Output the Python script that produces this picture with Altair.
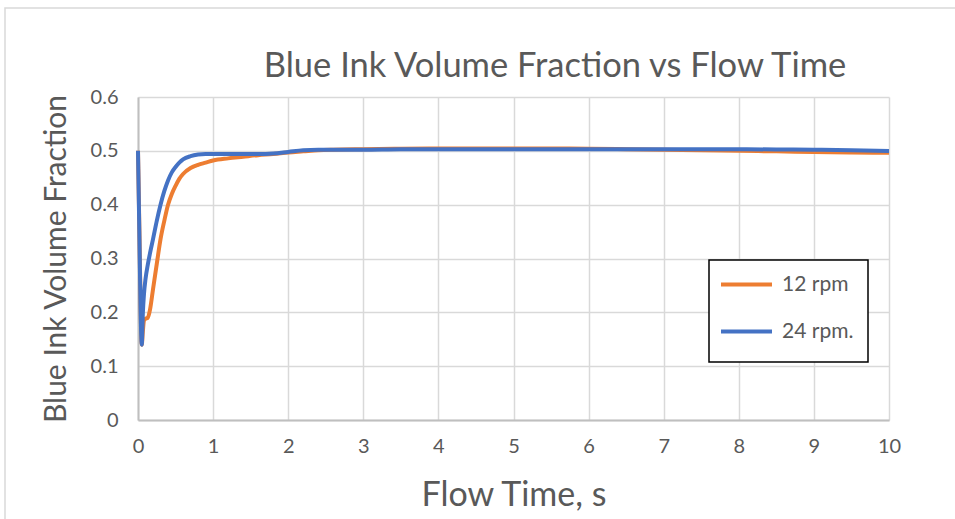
import altair as alt
import pandas as pd

# Flow time (s) and blue ink volume fraction for each rotation speed
time_s = [0, 0.02, 0.035, 0.05, 0.065, 0.08, 0.1, 0.13, 0.16, 0.2, 0.25, 0.3, 0.35,
          0.4, 0.45, 0.5, 0.55, 0.6, 0.7, 0.8, 0.9, 1.0, 1.2, 1.4, 1.6, 1.8, 2.0,
          2.2, 2.4, 2.6, 3.0, 3.5, 4.0, 4.5, 5.0, 5.5, 6.0, 6.5, 7.0, 7.5, 8.0,
          8.5, 9.0, 9.5, 10.0]
frac_12rpm = [0.5, 0.34, 0.21, 0.14, 0.165, 0.185, 0.188, 0.19, 0.205, 0.243, 0.29,
              0.336, 0.37, 0.40, 0.42, 0.435, 0.448, 0.457, 0.468, 0.474, 0.478,
              0.482, 0.486, 0.489, 0.492, 0.494, 0.497, 0.499, 0.501, 0.502, 0.503,
              0.504, 0.5045, 0.5045, 0.5045, 0.5042, 0.504, 0.503, 0.502, 0.501,
              0.5, 0.499, 0.498, 0.497, 0.4965]
frac_24rpm = [0.5, 0.33, 0.2, 0.14, 0.2, 0.235, 0.262, 0.288, 0.31, 0.336, 0.37,
              0.40, 0.425, 0.445, 0.46, 0.47, 0.478, 0.484, 0.49, 0.493, 0.494,
              0.494, 0.494, 0.494, 0.494, 0.495, 0.498, 0.501, 0.502, 0.502, 0.502,
              0.503, 0.503, 0.503, 0.503, 0.503, 0.503, 0.503, 0.503, 0.503, 0.503,
              0.5025, 0.502, 0.501, 0.4995]
series_names = ["12 rpm", "24 rpm."]
series_colors = ["#ED7D31", "#4472C4"]
x_ticks = [0, 1, 2, 3, 4, 5, 6, 7, 8, 9, 10]
y_ticks = [0, 0.1, 0.2, 0.3, 0.4, 0.5, 0.6]
chart_title = "Blue Ink Volume Fraction vs Flow Time"

df = pd.concat([
    pd.DataFrame({"t": time_s, "v": frac_12rpm, "series": series_names[0]}),
    pd.DataFrame({"t": time_s, "v": frac_24rpm, "series": series_names[1]}),
])

FONT = "Lato"
TXT = "#595959"
one = pd.DataFrame({"k": [0]})

# light frame around the whole chart
frame = alt.Chart(one).mark_rect(
    fill=None, stroke="#d9d9d9", strokeWidth=1.5, clip=False
).encode(
    x=alt.value(-133), x2=alt.value(900), y=alt.value(-89), y2=alt.value(500)
)

# chart title drawn as text so the frame does not push it around
title = alt.Chart(one).mark_text(
    font=FONT, fontSize=34.5, color=TXT, align="center", baseline="alphabetic",
    clip=False
).encode(x=alt.value(417), y=alt.value(-20), text=alt.value(chart_title))

lines = alt.Chart(df).mark_line(strokeWidth=4, interpolate="monotone").encode(
    x=alt.X("t:Q", scale=alt.Scale(domain=[0, 10], nice=False, zero=False),
            axis=alt.Axis(title="Flow Time, s", values=x_ticks, tickCount=11,
                          labelFlush=False, labelOverlap=False,
                          titleFontSize=34)),
    y=alt.Y("v:Q", scale=alt.Scale(domain=[0, 0.6], nice=False),
            axis=alt.Axis(title="Blue Ink Volume Fraction", values=y_ticks,
                          format="~g", labelFlush=False, titleFontSize=30)),
    color=alt.Color("series:N",
                    scale=alt.Scale(domain=series_names, range=series_colors),
                    legend=alt.Legend(
                        title=None, orient="none", legendX=570, legendY=149,
                        direction="vertical", symbolType="stroke",
                        symbolSize=2600, symbolStrokeWidth=4,
                        labelFontSize=21, labelFont=FONT, labelColor=TXT,
                        labelOffset=8, rowPadding=9, padding=11,
                        strokeColor=None, fillColor=None,
                    )),
    detail="series:N",
)

# white legend box with a black outline
legend_box = alt.Chart(one).mark_rect(
    fill="white", stroke="black", strokeWidth=1.5, clip=False
).encode(x=alt.value(571), x2=alt.value(730), y=alt.value(163), y2=alt.value(265))

chart = alt.layer(frame, lines, legend_box, title).properties(
    width=751, height=323,
    padding={"left": 138, "top": 97, "right": 66, "bottom": 99},
    autosize=alt.AutoSizeParams(type="none"),
).configure_view(
    stroke=None
).configure_axis(
    labelFont=FONT, labelFontSize=20, labelColor=TXT,
    titleFont=FONT, titleColor=TXT, titleFontWeight="normal",
    gridColor="#d9d9d9", gridWidth=1.5, domainColor="#bfbfbf", domainWidth=2,
    ticks=False,
).configure_axisX(
    labelPadding=16, titlePadding=22, grid=True,
).configure_axisY(
    labelPadding=20, titlePadding=19,
)

chart.save("out.html", embed_options={"renderer": "svg", "actions": False})
